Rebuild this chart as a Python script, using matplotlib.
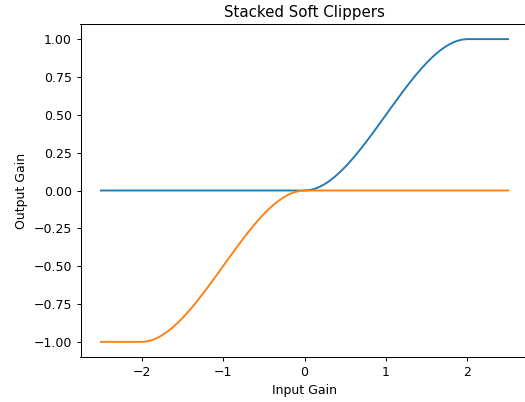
import matplotlib
matplotlib.use('Agg')
import matplotlib.pyplot as plt
import numpy as np

# input gain grid over the knee (0..2, step 1/16)
knee_x = list(np.linspace(0.0, 2.0, 33))

# shape of the knee, 0 -> 1
knee_y = [0.0, 0.0029, 0.0112, 0.0247, 0.0430, 0.0656, 0.0923, 0.1226,
          0.1563, 0.1928, 0.2319, 0.2733, 0.3164, 0.3610, 0.4067, 0.4532,
          0.5, 0.5468, 0.5933, 0.6390, 0.6836, 0.7267, 0.7681, 0.8072,
          0.8438, 0.8774, 0.9077, 0.9344, 0.9570, 0.9753, 0.9888, 0.9971, 1.0]

# positive clipper (blue): flat at 0 below zero, flat at 1 above 2
pos_x = [-2.5] + knee_x + [2.5]
pos_y = [0.0] + knee_y + [1.0]

# negative clipper (orange): mirror image
neg_x = [-2.5] + [-v for v in reversed(knee_x)] + [2.5]
neg_y = [-1.0] + [-v for v in reversed(knee_y)] + [0.0]

fig = plt.figure(figsize=(525 / 90, 402 / 90), dpi=90)
ax = fig.add_axes([80.5 / 525, 45 / 402, 448 / 525, 333 / 402])
ax.plot(pos_x, pos_y)
ax.plot(neg_x, neg_y)
ax.set_title('Stacked Soft Clippers')
ax.set_xlabel('Input Gain')
ax.set_ylabel('Output Gain')
fig.savefig('out.png', dpi=90)
